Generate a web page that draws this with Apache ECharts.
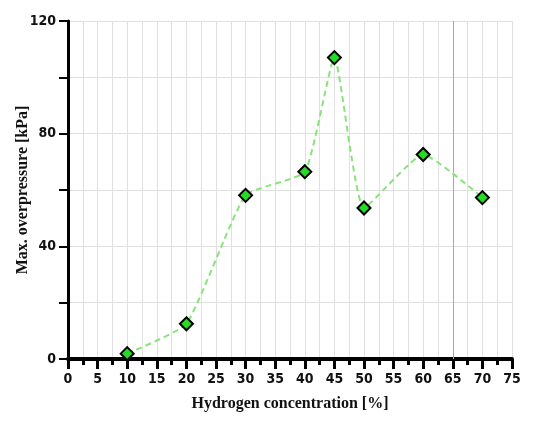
<!DOCTYPE html>
<html lang="en">
<head>
    <meta charset="UTF-8">
    <script type="text/javascript" src="https://cdn.jsdelivr.net/npm/echarts@6/dist/echarts.min.js"></script>
    <title>Max. overpressure</title>
    <style>
        html, body { margin: 0; padding: 0; background: #fff; }
        #main { width: 537px; height: 424px; }
    </style>
</head>
<body>
    <div id="main"></div>
<script>
// hydrogen concentration [%] and max overpressure [kPa]
var concentration = [10, 20, 30, 40, 45, 50, 60, 70];
var overpressure = [1.9, 12.5, 58.1, 66.5, 107, 53.6, 72.6, 57.3];
var yLabels = [0, 40, 80, 120];

var tickFont = "'Liberation Sans Narrow', 'DejaVu Sans Condensed', sans-serif";
var nameFont = "'Liberation Serif', 'DejaVu Serif', serif";

var points = [];
for (var i = 0; i < concentration.length; i++) {
    points.push([concentration[i], overpressure[i]]);
}

var option = {
    animation: false,
    grid: { left: 68, right: 25, top: 21, bottom: 65, containLabel: false, outerBoundsMode: 'none' },
    xAxis: {
        type: 'value',
        min: 0, max: 75, interval: 5,
        name: 'Hydrogen concentration [%]',
        nameLocation: 'middle',
        nameGap: 37,
        nameMoveOverlap: false,
        nameTextStyle: { fontFamily: nameFont, fontWeight: 'bold', fontSize: 16, color: '#111' },
        axisLine: { onZero: false, lineStyle: { color: '#000', width: 4 } },
        axisTick: { length: 10, lineStyle: { color: '#000', width: 3 } },
        minorTick: { show: true, splitNumber: 2, length: 6, lineStyle: { color: '#000', width: 3 } },
        axisLabel: { margin: 13, fontFamily: tickFont, fontWeight: 'bold', fontSize: 14, color: '#111' },
        splitLine: { show: true, lineStyle: { color: '#e0e0e0', width: 1 } },
        minorSplitLine: { show: true, lineStyle: { color: '#e0e0e0', width: 1 } }
    },
    yAxis: {
        type: 'value',
        min: 0, max: 120, interval: 40,
        name: 'Max. overpressure [kPa]',
        nameLocation: 'middle',
        nameGap: 37,
        nameMoveOverlap: false,
        nameTextStyle: { fontFamily: nameFont, fontWeight: 'bold', fontSize: 16, color: '#111' },
        axisLine: { show: true, lineStyle: { color: '#000', width: 3 } },
        axisTick: { show: true, length: 9, lineStyle: { color: '#000', width: 2 } },
        minorTick: { show: true, splitNumber: 2, length: 9, lineStyle: { color: '#000', width: 2 } },
        axisLabel: {
            margin: 12, fontFamily: tickFont, fontWeight: 'bold', fontSize: 14, color: '#111',
            formatter: function (v) { return yLabels.indexOf(v) > -1 ? String(v) : ''; }
        },
        splitLine: { show: true, lineStyle: { color: '#e0e0e0', width: 1 } },
        minorSplitLine: { show: true, lineStyle: { color: '#e0e0e0', width: 1 } }
    },
    series: [
        {
            type: 'line',
            data: points,
            smooth: 0.15,
            symbol: 'diamond',
            symbolSize: 13,
            itemStyle: { color: '#22dd22', borderColor: '#000', borderWidth: 2 },
            lineStyle: { color: '#88e47a', width: 2, type: [6, 4] },
            markLine: {
                silent: true,
                symbol: 'none',
                label: { show: false },
                lineStyle: { color: '#a8a8a8', width: 1, type: 'solid' },
                data: [{ xAxis: 65 }]
            },
            z: 5
        }
    ]
};

var myChart = echarts.init(document.getElementById('main'));
myChart.setOption(option);
</script>
</body>
</html>
